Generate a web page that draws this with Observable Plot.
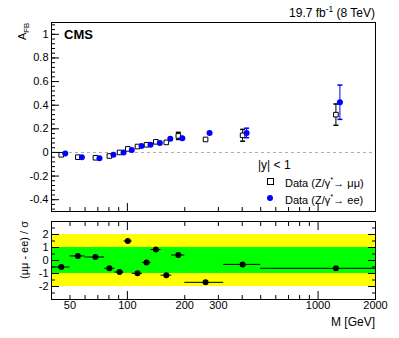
<!DOCTYPE html>
<html><head><meta charset="utf-8">
<script src="https://cdn.jsdelivr.net/npm/d3@7"></script>
<script src="https://cdn.jsdelivr.net/npm/@observablehq/plot@0.6"></script>
<style>
body{margin:0;background:#fff;}
#c{position:relative;width:399px;height:338px;font-family:"Liberation Sans",Arial,sans-serif;color:#000;overflow:hidden;}
#c svg{position:absolute;left:0;}
.lab{position:absolute;white-space:nowrap;line-height:1;}
.lab sup,.lab sub{font-size:70%;}
</style></head><body><div id="c"></div>
<script>
// ---- data ----
const mass   = [45, 55, 68, 80.5, 91, 100.5, 113, 126, 141, 160, 185, 257, 402, 1240];
const binLo  = [40, 50, 60, 76, 86, 96, 106, 120, 133, 150, 171, 200, 320, 500];
const binHi  = [50, 60, 76, 86, 96, 106, 120, 133, 150, 171, 200, 320, 500, 2000];
const afbMuMu = [-0.02, -0.04, -0.045, -0.03, 0.0, 0.03, 0.05, 0.065, 0.09, 0.085, 0.14, 0.11, 0.145, 0.32];
const errMuMu = [0.008, 0.006, 0.006, 0.006, 0.004, 0.004, 0.006, 0.008, 0.01, 0.012, 0.03, 0.012, 0.05, 0.09];
const afbEE   = [-0.01, -0.04, -0.05, -0.02, 0.0, 0.02, 0.055, 0.065, 0.08, 0.115, 0.12, 0.165, 0.165, 0.425];
const errEE   = [0.01, 0.008, 0.008, 0.008, 0.005, 0.005, 0.008, 0.01, 0.012, 0.015, 0.02, 0.015, 0.04, 0.145];
const pull    = [-0.5, 0.35, 0.27, -0.6, -0.89, 1.5, -0.99, -0.15, 0.84, -1.13, 0.42, -1.68, -0.3, -0.6];

const xDomain = [40, 2000];
const xMajor = [100, 1000];
const xMinor = [40, 50, 60, 70, 80, 90, 200, 300, 400, 500, 600, 700, 800, 900, 2000];
const xLabels = [50, 100, 200, 300, 1000, 2000];
const yTopDomain = [-0.5, 1.1];
const yTopMajor = [-0.4, -0.2, 0, 0.2, 0.4, 0.6, 0.8, 1];
const yTopMinor = d3.range(-0.48, 1.1, 0.04).map(v => +v.toFixed(2));
const yBotDomain = [-3, 3];
const yBotMajor = [-2, -1, 0, 1, 2];
const yBotMinor = [-2.5, -1.5, -0.5, 0.5, 1.5, 2.5];
const bandYellow = [-2, 2];
const bandGreen = [-1, 1];

const rows = mass.map((m, i) => ({M: m, mu: afbMuMu[i], muErr: errMuMu[i], ee: afbEE[i], eeErr: errEE[i]}));
const pullRows = mass.map((m, i) => ({M: m, v: pull[i], lo: binLo[i], hi: binHi[i]}));

const FONT = "Liberation Sans, Arial, sans-serif";
const cap = {draw(ctx) { ctx.moveTo(-2.5, 0); ctx.lineTo(2.5, 0); }};
const noLab = () => "";

const topPlot = Plot.plot({
  width: 399, height: 215,
  marginTop: 22, marginBottom: 4, marginLeft: 51, marginRight: 24,
  style: {fontFamily: FONT, fontSize: "11px", background: "transparent", overflow: "visible"},
  x: {type: "log", domain: xDomain, label: null},
  y: {domain: yTopDomain, label: null},
  marks: [
    Plot.ruleY([0], {stroke: "#aaa", strokeDasharray: "3,3"}),
    Plot.ruleX(rows, {x: "M", y1: d => d.mu - d.muErr, y2: d => d.mu + d.muErr, stroke: "black"}),
    Plot.dot(rows.filter(d => d.muErr > 0.02), {x: "M", y: d => d.mu + d.muErr, symbol: cap, fill: "none", stroke: "black"}),
    Plot.dot(rows.filter(d => d.muErr > 0.02), {x: "M", y: d => d.mu - d.muErr, symbol: cap, fill: "none", stroke: "black"}),
    Plot.ruleX(rows, {x: "M", y1: d => d.ee - d.eeErr, y2: d => d.ee + d.eeErr, stroke: "#0000ff", dx: 4}),
    Plot.dot(rows.filter(d => d.eeErr > 0.02), {x: "M", y: d => d.ee + d.eeErr, symbol: cap, fill: "none", stroke: "#0000ff", dx: 4}),
    Plot.dot(rows.filter(d => d.eeErr > 0.02), {x: "M", y: d => d.ee - d.eeErr, symbol: cap, fill: "none", stroke: "#0000ff", dx: 4}),
    Plot.dot(rows, {x: "M", y: "mu", symbol: "square", r: 2.6, fill: "white", stroke: "black", strokeWidth: 1}),
    Plot.dot(rows, {x: "M", y: "ee", r: 3, fill: "#0000ff", stroke: "none", dx: 4}),
    Plot.frame({stroke: "black"}),
    Plot.axisY({ticks: yTopMajor, tickSize: -8, tickPadding: 11, tickFormat: d => String(d), label: null}),
    Plot.axisY({ticks: yTopMinor, tickSize: -4, tickFormat: noLab, label: null}),
    Plot.axisX({ticks: xMajor, anchor: "bottom", tickSize: -8, tickFormat: noLab, label: null}),
    Plot.axisX({ticks: xMinor, anchor: "bottom", tickSize: -4, tickFormat: noLab, label: null})
  ]
});
topPlot.style.top = "0px";

const botPlot = Plot.plot({
  width: 399, height: 123,
  marginTop: 6, marginBottom: 39, marginLeft: 51, marginRight: 24,
  style: {fontFamily: FONT, fontSize: "11px", background: "transparent", overflow: "visible"},
  x: {type: "log", domain: xDomain, label: null},
  y: {domain: yBotDomain, label: null},
  marks: [
    Plot.rect([bandYellow], {x1: () => xDomain[0], x2: () => xDomain[1], y1: d => d[0], y2: d => d[1], fill: "#ffff00"}),
    Plot.rect([bandGreen], {x1: () => xDomain[0], x2: () => xDomain[1], y1: d => d[0], y2: d => d[1], fill: "#00ff00"}),
    Plot.ruleY(pullRows, {y: "v", x1: "lo", x2: "hi", stroke: "black"}),
    Plot.dot(pullRows, {x: "M", y: "v", r: 3, fill: "black", stroke: "none"}),
    Plot.frame({stroke: "black"}),
    Plot.axisY({ticks: yBotMajor, tickSize: -8, tickPadding: 11, tickFormat: d => String(d), label: null}),
    Plot.axisY({ticks: yBotMinor, tickSize: -4, tickFormat: noLab, label: null}),
    Plot.axisY({ticks: yBotMajor, anchor: "right", tickSize: -8, tickFormat: noLab, label: null}),
    Plot.axisY({ticks: yBotMinor, anchor: "right", tickSize: -4, tickFormat: noLab, label: null}),
    Plot.axisX({ticks: xMajor, anchor: "bottom", tickSize: -8, tickFormat: noLab, label: null}),
    Plot.axisX({ticks: xMinor, anchor: "bottom", tickSize: -4, tickFormat: noLab, label: null}),
    Plot.axisX({ticks: xLabels, anchor: "bottom", tickSize: 0, tickPadding: 2, tickFormat: d => String(d), label: null}),
    Plot.axisX({ticks: xMajor, anchor: "top", tickSize: -8, tickFormat: noLab, label: null}),
    Plot.axisX({ticks: xMinor, anchor: "top", tickSize: -4, tickFormat: noLab, label: null})
  ]
});
botPlot.style.top = "215px";

const c = document.getElementById("c");
c.appendChild(topPlot);
c.appendChild(botPlot);

function lab(html, css) {
  const d = document.createElement("div");
  d.className = "lab";
  d.innerHTML = html;
  Object.assign(d.style, css);
  c.appendChild(d);
  return d;
}
lab("19.7 fb<sup>-1</sup> (8 TeV)", {right: "24px", top: "5px", fontSize: "12px"});
lab("CMS", {left: "64px", top: "28px", fontSize: "13px", fontWeight: "bold"});
lab("A<sub>FB</sub>", {left: "17px", top: "40px", fontSize: "11px", transformOrigin: "0 0", transform: "rotate(-90deg)"});
lab("(μμ - ee) / σ", {left: "19px", top: "290px", width: "80px", textAlign: "center", fontSize: "11px", transformOrigin: "0 0", transform: "rotate(-90deg)"});
lab("M [GeV]", {right: "24px", top: "316px", fontSize: "12px"});
lab("|y| &lt; 1", {left: "258px", top: "159px", fontSize: "12px"});
lab("Data (Z/γ<sup>*</sup>→ μμ)", {left: "285px", top: "176px", fontSize: "11px"});
lab("Data (Z/γ<sup>*</sup>→ ee)", {left: "285px", top: "193px", fontSize: "11px"});
lab("", {left: "267px", top: "178px", width: "5px", height: "5px", border: "1px solid #000", background: "#fff"});
lab("", {left: "267px", top: "195px", width: "6px", height: "6px", borderRadius: "50%", background: "#0000ff"});
</script>
</body></html>
